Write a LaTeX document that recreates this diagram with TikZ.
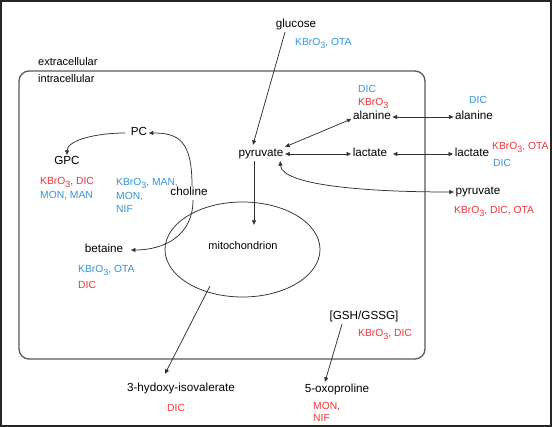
\documentclass[tikz,border=0pt]{standalone}
\usepackage{fontspec}
\setmainfont{Liberation Sans}
\usetikzlibrary{arrows.meta}
\definecolor{lred}{RGB}{236,52,56}
\definecolor{lblue}{RGB}{48,150,220}
\definecolor{lline}{RGB}{50,50,50}
\newcommand\lsub[1]{\raisebox{-2.6pt}{\fontsize{9}{9}\selectfont #1}}
\tikzset{
  met/.style={inner sep=1.5pt, text height=8.4pt, text depth=2.5pt, font=\fontsize{11.7}{13}\selectfont},
  zone/.style={inner sep=0pt, anchor=west, text height=8pt, text depth=0pt, font=\fontsize{11}{13}\selectfont},
  rlab/.style={inner sep=0pt, anchor=west, text height=7.4pt, text depth=0pt, text=lred, font=\fontsize{10.3}{12}\selectfont},
  blab/.style={rlab, text=lblue},
  arr/.style={draw=lline, line width=0.75pt, -{Triangle[length=4.5pt,width=4pt]}},
  arrb/.style={draw=lline, line width=0.75pt, {Triangle[length=4.5pt,width=4pt]}-{Triangle[length=4.5pt,width=4pt]}},
}
\begin{document}
\begin{tikzpicture}[x=1pt,y=-1pt]
\useasboundingbox (0,0) rectangle (552,427);
\fill[white] (0,0) rectangle (552,427);
\draw[line width=2pt, draw=black!85] (1,1) rectangle (551,426);
% cell
\draw[line width=1.3pt, draw=black!65, rounded corners=10pt] (19,71) rectangle (425,359);
\node[zone] (extra) at (38,62) {extracellular};
\node[zone] (intra) at (38,79) {intracellular};
% mitochondrion
\draw[line width=0.75pt, draw=lline] (242.5,249.5) ellipse [x radius=77.5pt, y radius=47.5pt];
\node[met, font=\fontsize{11}{13}\selectfont] (mito) at (243,247) {mitochondrion};
% metabolites
\node[met] (gluc) at (296,25) {glucose};
\node[blab] at (295,42) {KBrO\lsub{3}, OTA};
\node[met] (pyrin) at (261,154) {pyruvate};
\node[met] (alanin) at (372,117) {alanine};
\node[blab] at (358,89) {DIC};
\node[rlab] at (358,102) {KBrO\lsub{3}};
\node[met] (lactin) at (370,154) {lactate};
\node[met] (alanout) at (474,117) {alanine};
\node[blab] at (469,100) {DIC};
\node[met] (lactout) at (472,154) {lactate};
\node[rlab] at (492,146) {KBrO\lsub{3}, OTA};
\node[blab] at (493,163) {DIC};
\node[met] (pyrout) at (478,192) {pyruvate};
\node[rlab] at (454,210) {KBrO\lsub{3}, DIC, OTA};
\node[met] (pc) at (139,133) {PC};
\node[met] (gpc) at (67,162) {GPC};
\node[rlab] at (40,181) {KBrO\lsub{3}, DIC};
\node[blab] at (40,195) {MON, MAN};
\node[met] (chol) at (189,193) {choline};
\node[blab] at (116,182) {KBrO\lsub{3}, MAN,};
\node[blab] at (116,196) {MON,};
\node[blab] at (116,209) {NIF};
\node[met] (bet) at (104,250) {betaine};
\node[blab] at (78,269) {KBrO\lsub{3}, OTA};
\node[rlab] at (78,285) {DIC};
\node[met] (hiv) at (181,389) {3-hydoxy-isovalerate};
\node[rlab] at (167,408) {DIC};
\node[met] (gsh) at (364,317) {[GSH/GSSG]};
\node[rlab] at (358,333) {KBrO\lsub{3}, DIC};
\node[met] (oxo) at (337,390) {5-oxoproline};
\node[rlab] at (313,406) {MON,};
\node[rlab] at (313,418) {NIF};
% connectors
\draw[arr] ([xshift=-11pt]gluc.south) -- ([xshift=-8pt,yshift=2pt]pyrin.north);
\draw[arr] ([xshift=-7pt]pyrin.south) -- ([xshift=11pt,yshift=15pt]mito.north);
\draw[arrb] (pyrin.north east) -- ([yshift=-2pt]alanin.west);
\draw[arrb] (pyrin.east) -- (lactin.west);
\draw[arrb] (alanin.east) -- (alanout.west);
\draw[arrb] ([xshift=4pt]lactin.east) -- (lactout.west);
\draw[arrb] ([xshift=-5pt]pyrin.south east) .. controls +(2,24) and +(-90,0) .. (pyrout.west);
\draw[arr, shorten <=4pt] (pc.west) .. controls +(-35,0) and +(0,-14) .. (gpc.north);
\draw[arr] ([xshift=3pt]chol.north) .. controls +(0,-45) and +(30,0) .. (pc.east);
\draw[arr, shorten >=6pt] ([xshift=4pt]chol.south) .. controls +(0,35) and +(40,0) .. (bet.east);
\draw[arr] ([xshift=-33pt,yshift=-39pt]mito.center) -- ([xshift=-16pt,yshift=8pt]hiv.north);
\draw[arr] ([xshift=-22pt]gsh.south) -- ([xshift=-12pt,yshift=1pt]oxo.north);
\end{tikzpicture}
\end{document}
